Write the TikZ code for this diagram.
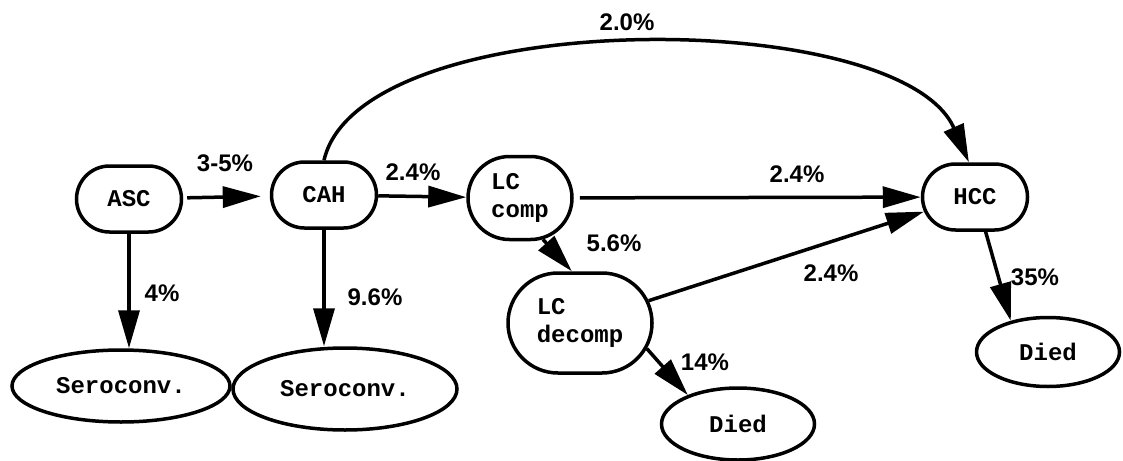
\documentclass[tikz,border=0pt]{standalone}
\usepackage{fontspec}
\setsansfont{Liberation Sans}
\setmonofont{Liberation Mono}
\usetikzlibrary{arrows.meta,shapes}
\tikzstyle{state}=[draw,rounded rectangle,line width=3.5pt,minimum width=105pt,minimum height=66pt,inner sep=0pt,align=left,font=\fontsize{24}{28}\selectfont\ttfamily\bfseries]
\tikzstyle{outcome}=[draw,ellipse,line width=3.5pt,inner sep=0pt,font=\fontsize{24}{28}\selectfont\ttfamily\bfseries]
\tikzstyle{trans}=[draw,line width=3.5pt,-{Triangle[length=38pt,width=21pt]}]
\tikzstyle{rate}=[inner sep=0pt,font=\fontsize{24}{26}\selectfont\sffamily\bfseries]

\begin{document}
\begin{tikzpicture}[x=1pt,y=-1pt]
    \useasboundingbox (0,0) rectangle (1123,460);
    % the disease states
    \foreach \pos/\name in {{(129,199)/ASC}, {(324,195)/CAH}, {(975,197)/HCC}}
        \node[state] (\name) at \pos {\name};
    \node[state,minimum width=104pt,minimum height=83pt] (LCc) at (520,198) {LC\\comp};
    \node[state,minimum width=144pt,minimum height=100pt] (LCd) at (580,323) {LC\\decomp};
    % the end points
    \node[outcome,minimum width=218pt,minimum height=72pt] (Sero1) at (121,386) {Seroconv.};
    \node[outcome,minimum width=224pt,minimum height=82pt] (Sero2) at (345,389) {Seroconv.};
    \node[outcome,minimum width=153pt,minimum height=72pt] (Died1) at (738,424) {Died};
    \node[outcome,minimum width=143pt,minimum height=69pt] (Died2) at (1048,352) {Died};
    % transitions between states
    \path[trans,shorten <=4pt,shorten >=9pt] (ASC) -- (CAH);
    \path[trans] (CAH) -- (LCc);
    \path[trans,shorten <=6pt] (LCc) -- (HCC);
    \path[trans] (ASC.south) -- (ASC.south |- Sero1.north);
    \path[trans] (CAH.south) -- (CAH.south |- Sero2.north);
    \path[trans] (CAH.north) .. controls (360,5) and (900,5) .. (HCC.100);
    \path[trans] (LCc.-61) -- (LCd.99);
    \path[trans] (LCd.18) -- (HCC.196);
    \path[trans] (LCd.-21) -- (Died1.150);
    \path[trans] (HCC.-73) -- (Died2.140);
    % yearly rates
    \foreach \pos/\name/\txt in {{(225,163)/rASC/3-5\%}, {(413,172)/rCAH/2.4\%}, {(162,293)/rSeroA/4\%},
        {(375,297)/rSeroB/9.6\%}, {(627,22)/rHCCa/2.0\%}, {(797,174)/rHCCb/2.4\%}, {(614,243)/rLCd/5.6\%},
        {(831,273)/rHCCc/2.4\%}, {(705,362)/rDiedA/14\%}, {(1035,277)/rDiedB/35\%}}
        \node[rate] (\name) at \pos {\txt};
\end{tikzpicture}
\end{document}
